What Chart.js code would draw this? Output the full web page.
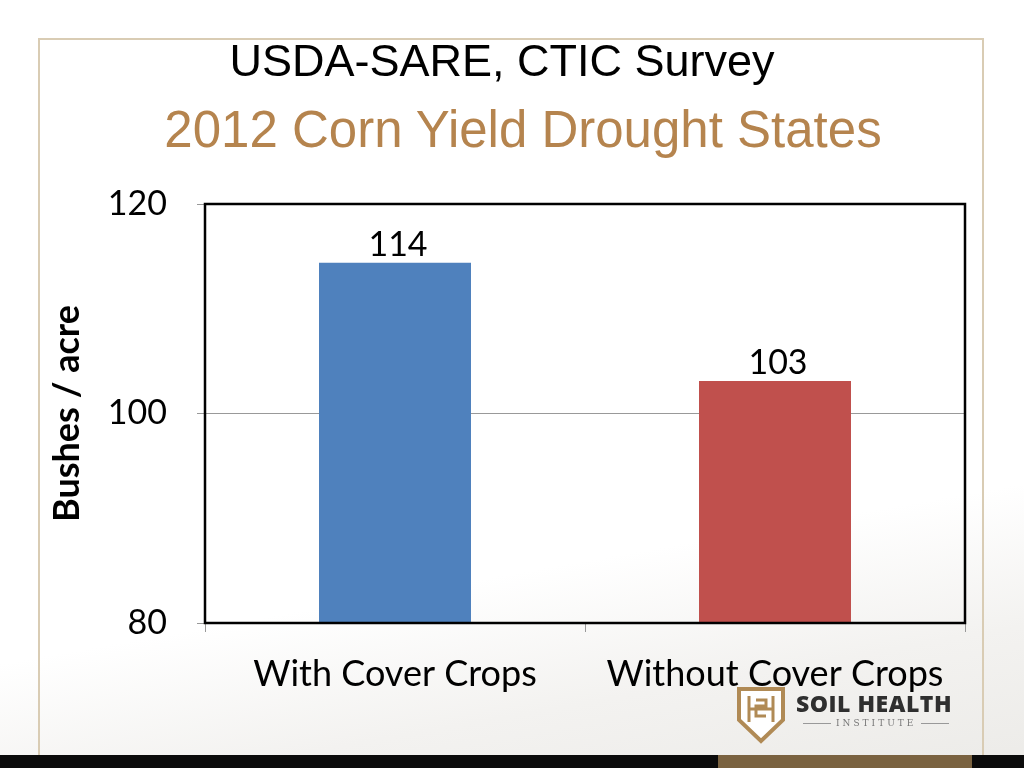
<!DOCTYPE html>
<html>
<head>
<meta charset="utf-8">
<script src="https://cdn.jsdelivr.net/npm/chart.js@4.4.0/dist/chart.umd.min.js"></script>
<style>
  html, body { margin: 0; padding: 0; background: #fff; }
  #slide { position: relative; width: 1024px; height: 768px; overflow: hidden;
    background: linear-gradient(170deg, #ffffff 0%, #ffffff 70%, #f3f2f0 85%, #ecebe8 100%); }
  #frame { position: absolute; left: 38px; top: 38px; width: 946px; height: 760px;
    border: 2px solid #d9ccb4; border-bottom: none; box-sizing: border-box; }
  #bottom { position: absolute; left: 0; top: 755px; width: 1024px; height: 13px; background: #0b0b0b; }
  #bottom .band { position: absolute; left: 718px; width: 254px; top: 0; height: 13px; background: #7a6240; }
  .title { position: absolute; left: 0; width: 1024px; text-align: center; font-family: "Liberation Sans", Arial, sans-serif; }
  #t1 { top: 35px; left: -10px; font-size: 45px; color: #000; }
  #t2 { top: 100px; left: 11px; font-size: 51px; color: #b5844e; }
  canvas { position: absolute; left: 0; top: 0; }
  #logo { position: absolute; left: 736px; top: 686px; width: 230px; height: 60px; }
  #logo .name { position: absolute; left: 60px; top: 1px; font-family: "Open Sans", sans-serif; font-weight: 800; font-size: 23px; color: #2f2f2f; letter-spacing: 0.5px; }
  #logo .inst { position: absolute; left: 62px; top: 32px; width: 152px; font-family: "DejaVu Serif", serif; font-size: 9px; letter-spacing: 3px; color: #777; text-align: center; white-space: nowrap; }
  #logo .inst:before, #logo .inst:after { content: ""; display: inline-block; width: 28px; height: 1px; background: #999; vertical-align: middle; margin: 0 5px; }
</style>
</head>
<body>
<div id="slide">
  <div id="frame"></div>
  <canvas id="chart" width="1024" height="768"></canvas>
  <div class="title" id="t1">USDA-SARE, CTIC Survey</div>
  <div class="title" id="t2">2012 Corn Yield Drought States</div>
  <div id="logo">
    <svg width="50" height="58" viewBox="0 0 50 58" style="position:absolute;left:0;top:0">
      <path d="M3 3 H47 V34 L25 55 L3 34 Z" fill="#fff" stroke="#b08a55" stroke-width="4"/>
      <path d="M13 10 V36 M37 10 V36 M13 23 H37 M20 14 H30 V20 H20 V30 H30" fill="none" stroke="#b08a55" stroke-width="3"/>
    </svg>
    <div class="name">SOIL HEALTH</div>
    <div class="inst">INSTITUTE</div>
  </div>
  <div id="bottom"><div class="band"></div></div>
</div>
<script>
var categories = ["With Cover Crops", "Without Cover Crops"];
var yields = [114.4, 103.1];
var barColors = ["#4f81bd", "#c0504d"];
var yTicks = [80, 100, 120];

var plotBox = {
  id: "plotBox",
  afterDraw: function (chart) {
    var a = chart.chartArea;
    var ctx = chart.ctx;
    ctx.save();
    ctx.strokeStyle = "#000";
    ctx.lineWidth = 2.5;
    ctx.strokeRect(a.left, a.top, a.right - a.left, a.bottom - a.top);
    ctx.restore();
  }
};

var valueLabels = {
  id: "valueLabels",
  afterDatasetsDraw: function (chart) {
    var ctx = chart.ctx;
    var meta = chart.getDatasetMeta(0);
    ctx.save();
    ctx.fillStyle = "#000";
    ctx.font = "34px Lato";
    ctx.textAlign = "center";
    ctx.textBaseline = "alphabetic";
    meta.data.forEach(function (bar, i) {
      ctx.fillText(Math.round(yields[i]).toString(), bar.x + 3, bar.y - 7);
    });
    ctx.restore();
  }
};

var config = {
  type: "bar",
  data: {
    labels: categories,
    datasets: [{
      data: yields,
      backgroundColor: barColors,
      borderWidth: 0,
      barPercentage: 0.4,
      categoryPercentage: 1.0
    }]
  },
  options: {
    responsive: false,
    animation: false,
    layout: { padding: { top: 204, right: 59, bottom: 0, left: 46 } },
    plugins: { legend: { display: false }, tooltip: { enabled: false } },
    scales: {
      x: {
        afterFit: function (s) { s.height = 145; },
        grid: { offset: true, drawOnChartArea: false, drawTicks: true, tickLength: 9, color: "#999" },
        border: { display: false },
        ticks: { color: "#000", font: { family: "Lato", size: 36 }, padding: 21 }
      },
      y: {
        min: 80,
        max: 120,
        afterFit: function (s) { s.width = 159; },
        afterBuildTicks: function (s) { s.ticks = yTicks.map(function (v) { return { value: v }; }); },
        grid: { color: "#999", lineWidth: 1, tickLength: 8 },
        border: { display: false },
        ticks: { color: "#000", font: { family: "Lato", size: 34 }, padding: 30 },
        title: {
          display: true,
          text: "Bushes / acre",
          color: "#000",
          font: { family: "Lato", size: 36, weight: "bold" },
          padding: { top: 0, bottom: 0 }
        }
      }
    }
  },
  plugins: [valueLabels, plotBox]
};

new Chart(document.getElementById("chart").getContext("2d"), config);
</script>
</body>
</html>
